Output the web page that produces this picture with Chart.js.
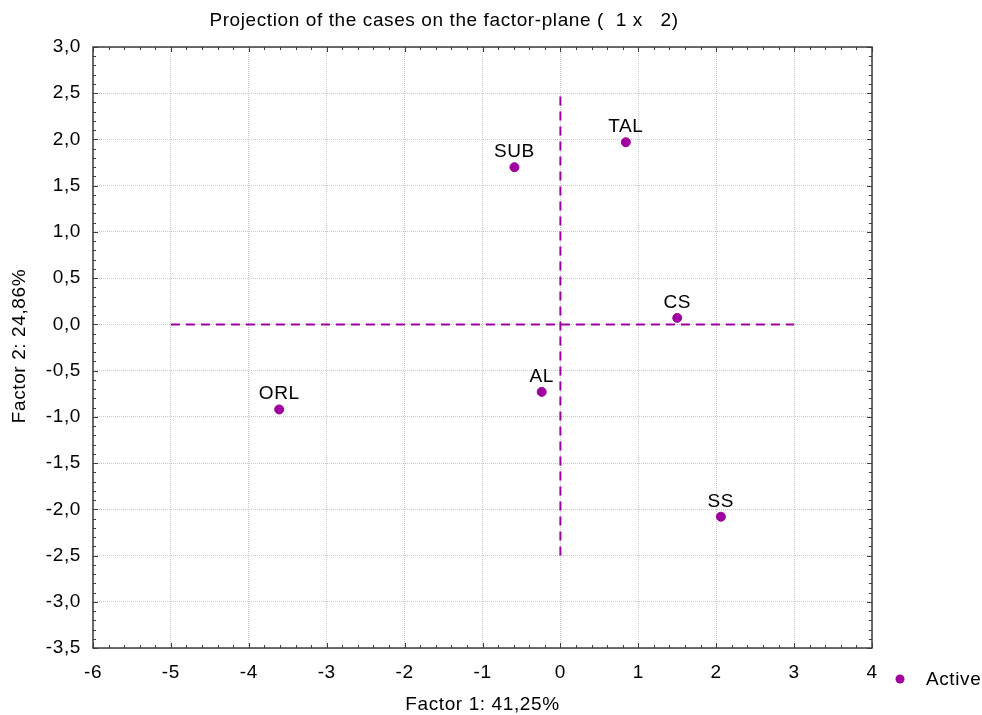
<!DOCTYPE html>
<html>
<head>
<meta charset="utf-8">
<script src="https://cdn.jsdelivr.net/npm/chart.js@4/dist/chart.umd.min.js"></script>
<style>
  html, body { margin: 0; padding: 0; background: #fff; }
  #wrap { width: 982px; height: 715px; }
</style>
</head>
<body>
<div id="wrap"><canvas id="c" width="982" height="715"></canvas></div>
<script>
// Factor-plane projection of cases (factor 1 vs factor 2)
const caseNames = ["TAL", "SUB", "CS", "AL", "ORL", "SS"];
const factor1 = [0.84, -0.59, 1.50, -0.24, -3.61, 2.06];
const factor2 = [1.97, 1.70, 0.07, -0.73, -0.92, -2.08];

// reference lines through the origin
const hLineX = [-5, 3];
const hLineY = [0, 0];
const vLineX = [0, 0];
const vLineY = [-2.5, 2.5];

const xTicks = [-6, -5, -4, -3, -2, -1, 0, 1, 2, 3, 4];
const yTicks = [3.0, 2.5, 2.0, 1.5, 1.0, 0.5, 0.0, -0.5, -1.0, -1.5, -2.0, -2.5, -3.0, -3.5];

const TITLE = "Projection of the cases on the factor-plane (  1 x   2)";
const X_TITLE = "Factor 1: 41,25%";
const Y_TITLE = "Factor 2: 24,86%";
const LEGEND = "Active";

const PURPLE = "#a000a0";
const FONT = "Arial, 'Liberation Sans', sans-serif";
const FS = 19;
const LS = "0.6px";

const fmt = (v) => v.toFixed(1).replace(".", ",");

// the reference text is a bit wider than Liberation Sans, widen it slightly
const spacing = {
  id: "spacing",
  beforeInit(chart) { chart.ctx.letterSpacing = LS; },
  beforeLayout(chart) { chart.ctx.letterSpacing = LS; },
};

// frame, minor ticks, titles, point labels, legend
const decor = {
  id: "decor",
  afterDraw(chart) {
    const { ctx, chartArea: a, scales: { x, y } } = chart;
    ctx.save();
    // frame
    ctx.strokeStyle = "#3c3c3c";
    ctx.lineWidth = 1.5;
    ctx.strokeRect(a.left, a.top, a.right - a.left, a.bottom - a.top);
    // ticks on all sides, pointing inward
    ctx.lineWidth = 1;
    ctx.beginPath();
    for (let v = x.min; v <= x.max + 1e-9; v += 0.2) {
      const px = Math.round(x.getPixelForValue(v)) + 0.5;
      const major = Math.abs(v - Math.round(v)) < 1e-6;
      const len = major ? 5 : 3;
      ctx.moveTo(px, a.bottom); ctx.lineTo(px, a.bottom - len);
      ctx.moveTo(px, a.top); ctx.lineTo(px, a.top + len);
    }
    for (let v = y.min; v <= y.max + 1e-9; v += 0.1) {
      const py = Math.round(y.getPixelForValue(v)) + 0.5;
      const major = Math.abs(v * 2 - Math.round(v * 2)) < 1e-6;
      const len = major ? 5 : 3;
      ctx.moveTo(a.left, py); ctx.lineTo(a.left + len, py);
      ctx.moveTo(a.right, py); ctx.lineTo(a.right - len, py);
    }
    ctx.stroke();

    ctx.letterSpacing = LS;
    ctx.fillStyle = "#000";
    ctx.font = FS + "px " + FONT;
    ctx.textAlign = "center";
    ctx.textBaseline = "middle";
    ctx.fillText(TITLE, 444, 21);
    ctx.fillText(X_TITLE, (a.left + a.right) / 2, 705);
    ctx.save();
    ctx.translate(20, 346);
    ctx.rotate(-Math.PI / 2);
    ctx.fillText(Y_TITLE, 0, 0);
    ctx.restore();

    // point labels
    ctx.textBaseline = "alphabetic";
    const meta = chart.getDatasetMeta(0);
    meta.data.forEach((pt, i) => {
      ctx.fillText(caseNames[i], pt.x, pt.y - 10);
    });

    // legend
    ctx.fillStyle = PURPLE;
    ctx.beginPath();
    ctx.arc(900, 679, 4.5, 0, Math.PI * 2);
    ctx.fill();
    ctx.fillStyle = "#000";
    ctx.textAlign = "left";
    ctx.textBaseline = "middle";
    ctx.fillText(LEGEND, 926, 680);
    ctx.restore();
  }
};

new Chart(document.getElementById("c"), {
  type: "scatter",
  data: {
    datasets: [
      {
        label: LEGEND,
        data: factor1.map((v, i) => ({ x: v, y: factor2[i] })),
        backgroundColor: PURPLE,
        borderColor: PURPLE,
        pointRadius: 4.5,
        pointHoverRadius: 4.5,
      },
      {
        data: hLineX.map((v, i) => ({ x: v, y: hLineY[i] })),
        showLine: true,
        borderColor: PURPLE,
        borderWidth: 2,
        borderDash: [9, 6],
        pointRadius: 0,
      },
      {
        data: vLineX.map((v, i) => ({ x: v, y: vLineY[i] })),
        showLine: true,
        borderColor: PURPLE,
        borderWidth: 2,
        borderDash: [9, 6],
        pointRadius: 0,
      },
    ],
  },
  options: {
    responsive: false,
    animation: false,
    layout: { padding: { top: 47, right: 110, left: 0, bottom: 0 } },
    plugins: { legend: { display: false }, tooltip: { enabled: false }, title: { display: false } },
    scales: {
      x: {
        type: "linear",
        min: xTicks[0],
        max: xTicks[xTicks.length - 1],
        afterBuildTicks: (s) => { s.ticks = xTicks.map((v) => ({ value: v })); },
        afterFit: (s) => { s.height = 67; },
        grid: { color: "#c8c8c8", drawTicks: false },
        border: { display: false, dash: [1, 1] },
        ticks: { color: "#000", font: { size: FS, family: FONT }, padding: 13, maxRotation: 0 },
      },
      y: {
        type: "linear",
        min: yTicks[yTicks.length - 1],
        max: yTicks[0],
        afterBuildTicks: (s) => { s.ticks = yTicks.map((v) => ({ value: v })); },
        afterFit: (s) => { s.width = 93; },
        grid: { color: "#c8c8c8", drawTicks: false },
        border: { display: false, dash: [1, 1] },
        ticks: { color: "#000", font: { size: FS, family: FONT }, padding: 12, callback: (v) => fmt(v) },
      },
    },
  },
  plugins: [spacing, decor],
});
</script>
</body>
</html>
